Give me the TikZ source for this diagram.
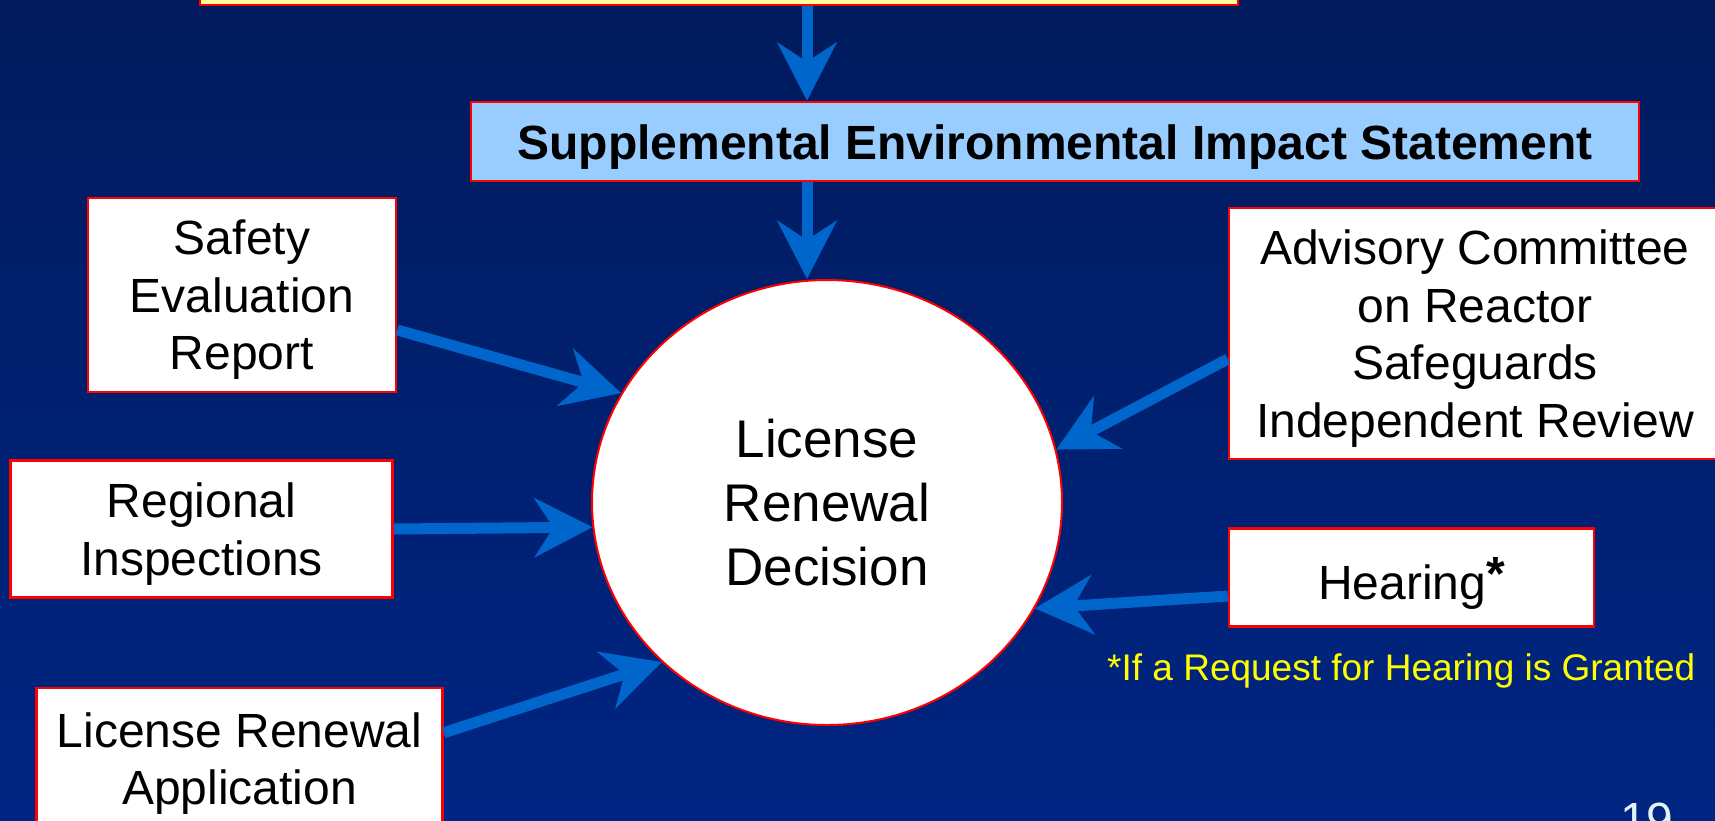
\documentclass[tikz,border=0pt]{standalone}
\usepackage{fontspec}
\setmainfont{Liberation Sans}
\usetikzlibrary{arrows.meta,shapes.geometric,calc}
\definecolor{bgtop}{HTML}{001A5C}
\definecolor{bgbot}{HTML}{002583}
\definecolor{arrowblue}{HTML}{0066CC}
\definecolor{boxred}{HTML}{FF0000}
\definecolor{lightblue}{HTML}{99CCFF}
\definecolor{lightyellow}{HTML}{FFFF99}
\definecolor{footyellow}{HTML}{FFFF00}
\definecolor{pagenum}{HTML}{E0F4F8}
\begin{document}
\begin{tikzpicture}[x=1pt,y=-1pt,
  box/.style={draw=boxred, line width=2.5pt, fill=white, inner sep=0pt, align=center,
              text depth=0pt, font=\fontsize{48}{57.5}\selectfont},
  arr/.style={draw=arrowblue, line width=11pt,
              -{Stealth[length=58pt,width=59pt,inset=19pt]}}]
\useasboundingbox (0,0) rectangle (1715,820);
\clip (0,0) rectangle (1715,820);
\shade[top color=bgtop,bottom color=bgbot] (0,0) rectangle (1715,820);

% boxes
\node[box, fill=lightyellow, minimum width=1038pt, minimum height=64pt] (top) at (719,-27) {};
\node[box, fill=lightblue, minimum width=1168pt, minimum height=79pt, text height=35pt,
      font=\bfseries\fontsize{48}{57.5}\selectfont] (seis) at (1055,141.5)
      {Supplemental Environmental Impact Statement};
\node[box, minimum width=308pt, minimum height=194pt] (ser) at (242,295)
      {Safety\\Evaluation\\Report};
\node[box, minimum width=382pt, minimum height=137pt] (reg) at (201.5,529)
      {Regional\\Inspections};
\node[box, minimum width=406pt, minimum height=142pt] (lra) at (239.5,758.75)
      {License Renewal\\Application};
\node[box, minimum width=492pt, minimum height=251pt] (acrs) at (1475,333.5)
      {Advisory Committee\\on Reactor\\Safeguards\\Independent Review};
\node[box, minimum width=365pt, minimum height=98pt, align=left,
      text height=44pt, text depth=0pt] (hear) at (1411.5,577.5)
      {Hearing\raisebox{9pt}{\bfseries *}};

% decision ellipse
\node[draw=boxred, line width=2pt, fill=white, ellipse, inner sep=0pt,
      minimum width=470pt, minimum height=445pt, align=center,
      font=\fontsize{53}{64}\selectfont] (dec) at (827,502.5)
      {License\\Renewal\\Decision};

% footnote and page number
\node[anchor=base west, inner sep=0pt, text=footyellow,
      font=\fontsize{37}{40}\selectfont] (foot) at (1107,680)
      {*If a Request for Hearing is Granted};
\node[anchor=base west, inner sep=0pt, text=pagenum,
      font=\fontsize{48}{50}\selectfont] (pg) at (1620,836) {19};

% connectors
\coordinate (ax) at (807,0);
\draw[arr] (ax |- top.south) -- (ax |- seis.north);
\draw[arr] (ax |- seis.south) -- (ax |- dec.north);
\draw[arr] ($(ser.east)+(0,35)$) -- (dec.152);
\draw[arr] (reg.east) -- (dec.186);
\draw[arr] ($(lra.east)+(0,-26)$) -- (dec.224);
\draw[arr] ($(acrs.west)+(0,25.5)$) -- (dec.13);
\draw[arr] ($(hear.west)+(0,18.5)$) -- (dec.333);
\end{tikzpicture}
\end{document}
